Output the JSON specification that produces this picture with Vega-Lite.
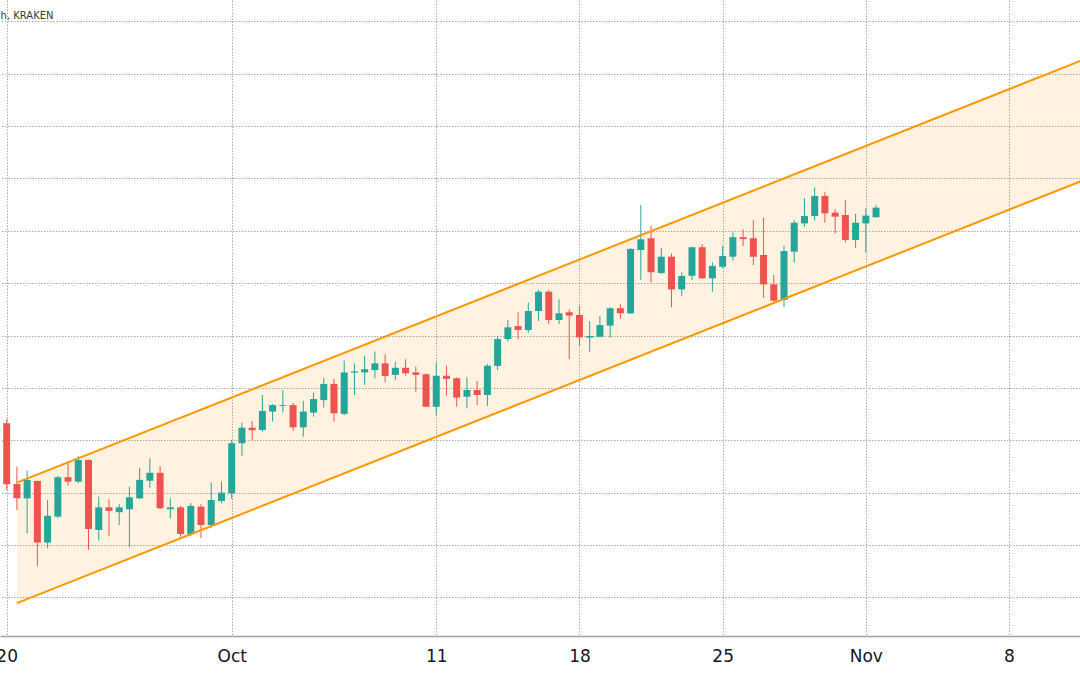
{
  "$schema": "https://vega.github.io/schema/vega-lite/v6.json",
  "width": 1080,
  "height": 636,
  "autosize": {"type": "none"},
  "padding": {"left": 0, "top": 0, "right": 0, "bottom": 39},
  "background": "#ffffff",
  "config": {"view": {"stroke": null}, "font": "DejaVu Sans"},
  "datasets": {
    "candles": [
      {"t":"2021-09-20T00:00Z","o":3331,"h":3352,"l":3013,"c":3040},
      {"t":"2021-09-20T12:00Z","o":3042,"h":3124,"l":2918,"c":2973},
      {"t":"2021-09-21T00:00Z","o":2973,"h":3105,"l":2806,"c":3061},
      {"t":"2021-09-21T12:00Z","o":3056,"h":3058,"l":2650,"c":2762},
      {"t":"2021-09-22T00:00Z","o":2762,"h":2965,"l":2735,"c":2890},
      {"t":"2021-09-22T12:00Z","o":2886,"h":3080,"l":2879,"c":3074},
      {"t":"2021-09-23T00:00Z","o":3074,"h":3151,"l":3033,"c":3053},
      {"t":"2021-09-23T12:00Z","o":3053,"h":3175,"l":3045,"c":3156},
      {"t":"2021-09-24T00:00Z","o":3156,"h":3159,"l":2727,"c":2827},
      {"t":"2021-09-24T12:00Z","o":2822,"h":2981,"l":2771,"c":2930},
      {"t":"2021-09-25T00:00Z","o":2930,"h":2969,"l":2793,"c":2913},
      {"t":"2021-09-25T12:00Z","o":2907,"h":2945,"l":2846,"c":2930},
      {"t":"2021-09-26T00:00Z","o":2921,"h":3029,"l":2740,"c":2978},
      {"t":"2021-09-26T12:00Z","o":2973,"h":3118,"l":2970,"c":3061},
      {"t":"2021-09-27T00:00Z","o":3057,"h":3164,"l":3024,"c":3095},
      {"t":"2021-09-27T12:00Z","o":3095,"h":3127,"l":2921,"c":2926},
      {"t":"2021-09-28T00:00Z","o":2921,"h":2973,"l":2878,"c":2930},
      {"t":"2021-09-28T12:00Z","o":2930,"h":2937,"l":2790,"c":2803},
      {"t":"2021-09-29T00:00Z","o":2802,"h":2950,"l":2793,"c":2937},
      {"t":"2021-09-29T12:00Z","o":2933,"h":2945,"l":2783,"c":2846},
      {"t":"2021-09-30T00:00Z","o":2846,"h":3048,"l":2833,"c":2965},
      {"t":"2021-09-30T12:00Z","o":2960,"h":3053,"l":2950,"c":3000},
      {"t":"2021-10-01T00:00Z","o":2997,"h":3252,"l":2970,"c":3236},
      {"t":"2021-10-01T12:00Z","o":3236,"h":3334,"l":3175,"c":3310},
      {"t":"2021-10-02T00:00Z","o":3310,"h":3342,"l":3252,"c":3298},
      {"t":"2021-10-02T12:00Z","o":3299,"h":3466,"l":3288,"c":3390},
      {"t":"2021-10-03T00:00Z","o":3387,"h":3423,"l":3339,"c":3418},
      {"t":"2021-10-03T12:00Z","o":3414,"h":3490,"l":3382,"c":3418},
      {"t":"2021-10-04T00:00Z","o":3418,"h":3429,"l":3294,"c":3312},
      {"t":"2021-10-04T12:00Z","o":3312,"h":3438,"l":3267,"c":3387},
      {"t":"2021-10-05T00:00Z","o":3382,"h":3477,"l":3363,"c":3447},
      {"t":"2021-10-05T12:00Z","o":3442,"h":3546,"l":3406,"c":3519},
      {"t":"2021-10-06T00:00Z","o":3519,"h":3543,"l":3339,"c":3379},
      {"t":"2021-10-06T12:00Z","o":3376,"h":3630,"l":3371,"c":3574},
      {"t":"2021-10-07T00:00Z","o":3573,"h":3617,"l":3466,"c":3579},
      {"t":"2021-10-07T12:00Z","o":3574,"h":3654,"l":3514,"c":3589},
      {"t":"2021-10-08T00:00Z","o":3585,"h":3673,"l":3546,"c":3617},
      {"t":"2021-10-08T12:00Z","o":3617,"h":3660,"l":3527,"c":3557},
      {"t":"2021-10-09T00:00Z","o":3562,"h":3625,"l":3538,"c":3596},
      {"t":"2021-10-09T12:00Z","o":3596,"h":3637,"l":3558,"c":3570},
      {"t":"2021-10-10T00:00Z","o":3574,"h":3601,"l":3482,"c":3562},
      {"t":"2021-10-10T12:00Z","o":3565,"h":3570,"l":3408,"c":3410},
      {"t":"2021-10-11T00:00Z","o":3410,"h":3620,"l":3371,"c":3558},
      {"t":"2021-10-11T12:00Z","o":3558,"h":3606,"l":3463,"c":3543},
      {"t":"2021-10-12T00:00Z","o":3546,"h":3550,"l":3410,"c":3454},
      {"t":"2021-10-12T12:00Z","o":3458,"h":3551,"l":3402,"c":3490},
      {"t":"2021-10-13T00:00Z","o":3490,"h":3533,"l":3418,"c":3466},
      {"t":"2021-10-13T12:00Z","o":3466,"h":3614,"l":3414,"c":3606},
      {"t":"2021-10-14T00:00Z","o":3605,"h":3749,"l":3585,"c":3733},
      {"t":"2021-10-14T12:00Z","o":3733,"h":3824,"l":3721,"c":3789},
      {"t":"2021-10-15T00:00Z","o":3795,"h":3861,"l":3732,"c":3776},
      {"t":"2021-10-15T12:00Z","o":3776,"h":3908,"l":3763,"c":3867},
      {"t":"2021-10-16T00:00Z","o":3867,"h":3967,"l":3819,"c":3959},
      {"t":"2021-10-16T12:00Z","o":3959,"h":3967,"l":3805,"c":3824},
      {"t":"2021-10-17T00:00Z","o":3824,"h":3923,"l":3805,"c":3856},
      {"t":"2021-10-17T12:00Z","o":3861,"h":3875,"l":3637,"c":3845},
      {"t":"2021-10-18T00:00Z","o":3848,"h":3891,"l":3701,"c":3741},
      {"t":"2021-10-18T12:00Z","o":3740,"h":3819,"l":3673,"c":3748},
      {"t":"2021-10-19T00:00Z","o":3744,"h":3843,"l":3741,"c":3800},
      {"t":"2021-10-19T12:00Z","o":3797,"h":3885,"l":3740,"c":3880},
      {"t":"2021-10-20T00:00Z","o":3880,"h":3899,"l":3829,"c":3856},
      {"t":"2021-10-20T12:00Z","o":3856,"h":4166,"l":3853,"c":4163},
      {"t":"2021-10-21T00:00Z","o":4158,"h":4373,"l":4015,"c":4209},
      {"t":"2021-10-21T12:00Z","o":4214,"h":4274,"l":4004,"c":4052},
      {"t":"2021-10-22T00:00Z","o":4048,"h":4169,"l":4043,"c":4126},
      {"t":"2021-10-22T12:00Z","o":4126,"h":4142,"l":3885,"c":3970},
      {"t":"2021-10-23T00:00Z","o":3970,"h":4052,"l":3939,"c":4034},
      {"t":"2021-10-23T12:00Z","o":4035,"h":4174,"l":4015,"c":4171},
      {"t":"2021-10-24T00:00Z","o":4171,"h":4185,"l":4020,"c":4023},
      {"t":"2021-10-24T12:00Z","o":4023,"h":4099,"l":3959,"c":4082},
      {"t":"2021-10-25T00:00Z","o":4078,"h":4177,"l":4071,"c":4129},
      {"t":"2021-10-25T12:00Z","o":4126,"h":4242,"l":4107,"c":4219},
      {"t":"2021-10-26T00:00Z","o":4219,"h":4257,"l":4177,"c":4210},
      {"t":"2021-10-26T12:00Z","o":4214,"h":4301,"l":4086,"c":4126},
      {"t":"2021-10-27T00:00Z","o":4134,"h":4312,"l":3930,"c":3994},
      {"t":"2021-10-27T12:00Z","o":3994,"h":4039,"l":3911,"c":3916},
      {"t":"2021-10-28T00:00Z","o":3919,"h":4177,"l":3885,"c":4153},
      {"t":"2021-10-28T12:00Z","o":4150,"h":4301,"l":4099,"c":4288},
      {"t":"2021-10-29T00:00Z","o":4285,"h":4405,"l":4269,"c":4320},
      {"t":"2021-10-29T12:00Z","o":4320,"h":4457,"l":4298,"c":4416},
      {"t":"2021-10-30T00:00Z","o":4416,"h":4436,"l":4288,"c":4333},
      {"t":"2021-10-30T12:00Z","o":4336,"h":4352,"l":4238,"c":4317},
      {"t":"2021-10-31T00:00Z","o":4325,"h":4397,"l":4193,"c":4206},
      {"t":"2021-10-31T12:00Z","o":4206,"h":4330,"l":4169,"c":4288},
      {"t":"2021-11-01T00:00Z","o":4285,"h":4357,"l":4147,"c":4322},
      {"t":"2021-11-01T12:00Z","o":4314,"h":4373,"l":4314,"c":4360}
    ],
    "channel": [
      {"t":"2021-09-20T12:00Z","upper":3048,"lower":2473},
      {"t":"2021-11-12T00:00Z","upper":5080,"lower":4505}
    ]
  },
  "layer": [
    {
      "data": {"name": "channel"},
      "mark": {"type": "area", "color": "#ff9800", "opacity": 0.12, "clip": true},
      "encoding": {
        "x": {
          "field": "t", "type": "temporal", "title": null,
          "scale": {
            "type": "utc",
            "domain": [
              {"year": 2021, "month": 9, "date": 19, "hours": 22, "minutes": 1, "seconds": 26, "utc": true},
              {"year": 2021, "month": 11, "date": 11, "hours": 5, "minutes": 25, "utc": true}
            ]
          },
          "axis": {
            "values": [
              {"year": 2021, "month": 9, "date": 20, "utc": true},
              {"year": 2021, "month": 10, "date": 1, "utc": true},
              {"year": 2021, "month": 10, "date": 11, "utc": true},
              {"year": 2021, "month": 10, "date": 18, "utc": true},
              {"year": 2021, "month": 10, "date": 25, "utc": true},
              {"year": 2021, "month": 11, "date": 1, "utc": true},
              {"year": 2021, "month": 11, "date": 8, "utc": true}
            ],
            "labelExpr": "utcdate(datum.value) == 1 ? utcFormat(datum.value, '%b') : utcFormat(datum.value, '%-d')",
            "title": null,
            "grid": true,
            "gridColor": "#a8a8a8",
            "gridDash": [1.5, 1.5],
            "gridWidth": 1,
            "ticks": false,
            "domain": true,
            "domainColor": "#a0a3ab",
            "domainWidth": 1.5,
            "labelFont": "DejaVu Sans",
            "labelFontSize": 17,
            "labelColor": "#131722",
            "labelPadding": 12,
            "labelFlush": false,
            "labelOverlap": false
          }
        },
        "y": {
          "field": "upper", "type": "quantitative", "title": null,
          "scale": {"domain": [2316.3, 5350.7], "nice": false, "zero": false},
          "axis": {
            "orient": "right",
            "values": [2500, 2750, 3000, 3250, 3500, 3750, 4000, 4250, 4500, 4750, 5000, 5250],
            "title": null,
            "labels": false,
            "ticks": false,
            "domain": false,
            "grid": true,
            "gridColor": "#a8a8a8",
            "gridDash": [1.5, 1.5],
            "gridWidth": 1
          }
        },
        "y2": {"field": "lower"}
      }
    },
    {
      "data": {"name": "candles"},
      "mark": {"type": "rule", "strokeWidth": 1, "clip": true},
      "encoding": {
        "x": {"field": "t", "type": "temporal", "title": null},
        "y": {"field": "l", "type": "quantitative", "title": null},
        "y2": {"field": "h"},
        "color": {"condition": {"test": "datum.o < datum.c", "value": "#26a69a"}, "value": "#ef5350"}
      }
    },
    {
      "data": {"name": "candles"},
      "mark": {"type": "bar", "size": 7, "clip": true},
      "encoding": {
        "x": {"field": "t", "type": "temporal", "title": null},
        "y": {"field": "o", "type": "quantitative", "title": null},
        "y2": {"field": "c"},
        "color": {"condition": {"test": "datum.o < datum.c", "value": "#26a69a"}, "value": "#ef5350"}
      }
    },
    {
      "data": {"name": "channel"},
      "mark": {"type": "line", "color": "#ff9800", "strokeWidth": 2, "clip": true},
      "encoding": {
        "x": {"field": "t", "type": "temporal", "title": null},
        "y": {"field": "upper", "type": "quantitative", "title": null}
      }
    },
    {
      "data": {"name": "channel"},
      "mark": {"type": "line", "color": "#ff9800", "strokeWidth": 2, "clip": true},
      "encoding": {
        "x": {"field": "t", "type": "temporal", "title": null},
        "y": {"field": "lower", "type": "quantitative", "title": null}
      }
    },
    {
      "data": {"values": [{}]},
      "mark": {"type": "text", "align": "right", "baseline": "alphabetic", "fontSize": 10, "font": "DejaVu Sans", "color": "#3a3a3a"},
      "encoding": {
        "x": {"datum": {"year": 2021, "month": 9, "date": 22, "hours": 7, "minutes": 0, "utc": true}, "type": "temporal"},
        "y": {"datum": 5259, "type": "quantitative"},
        "text": {"value": "Ethereum / U.S. Dollar, 12h, KRAKEN"}
      }
    }
  ]
}
